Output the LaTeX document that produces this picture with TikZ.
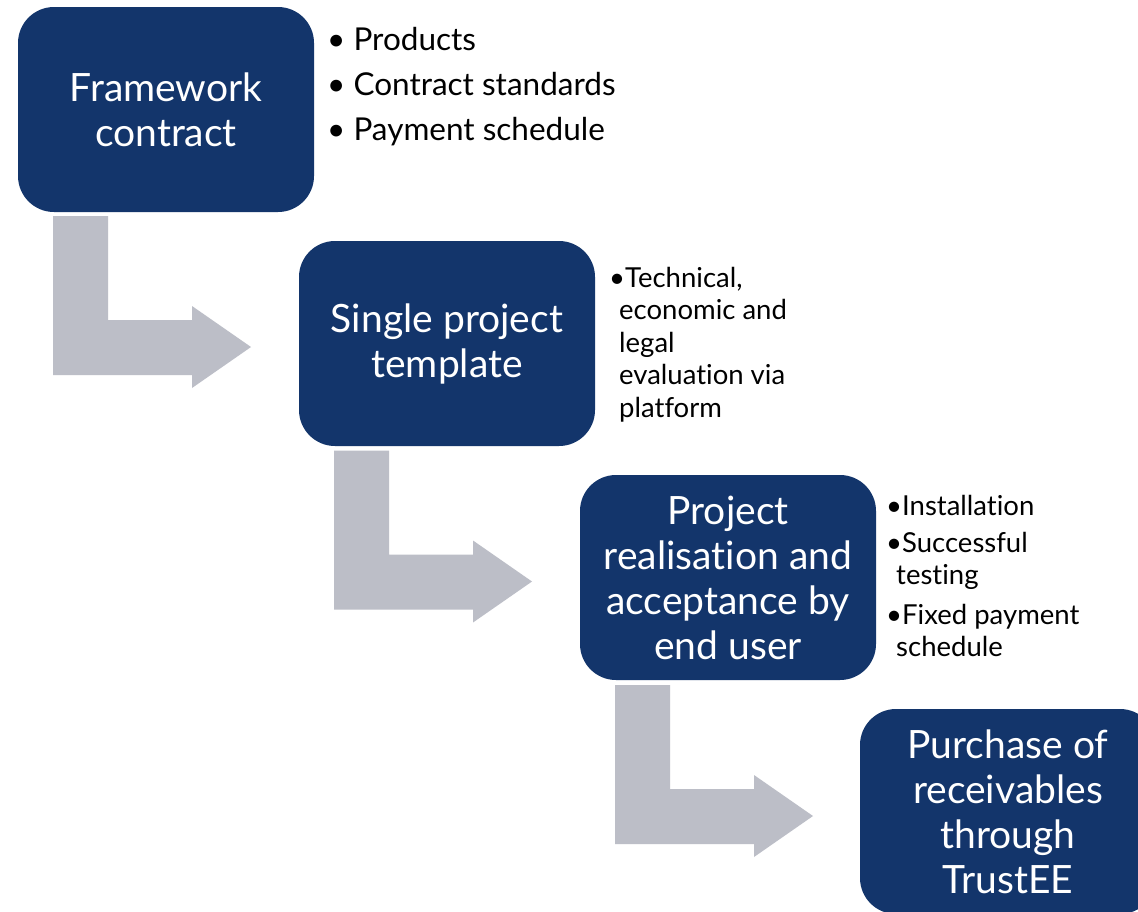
\documentclass[tikz,border=0pt]{standalone}
\usepackage{fontspec}
\setmainfont{Lato}[Ligatures=NoCommon]
\definecolor{boxblue}{RGB}{19,53,107}
\definecolor{arrowgray}{RGB}{188,190,199}
\tikzset{
  stepbox/.style={fill=boxblue, rounded corners=36pt, minimum width=296pt, minimum height=205pt,
    text=white, align=center, font=\fontsize{39}{45}\selectfont, inner sep=0pt},
  bigbullets/.style={anchor=north west, align=left, inner sep=0pt, font=\fontsize{31.5}{45}\selectfont},
  smallbullets/.style={anchor=north west, align=left, inner sep=0pt, font=\fontsize{27.5}{32.5}\selectfont},
  bentarrow/.style={fill=arrowgray, draw=none}
}
\begin{document}
\begin{tikzpicture}[x=1pt,y=-1pt]
\useasboundingbox (0,0) rectangle (1138,911);
\clip (0,0) rectangle (1138,911);
\fill[white] (0,0) rectangle (1138,911);
% bent arrows
\foreach \i in {0,1,2}{
  \begin{scope}[shift={(281*\i,234.5*\i)}]
    \fill[bentarrow] (53,216) -- (108,216) -- (108,320) -- (192,320) -- (192,306)
      -- (251,347) -- (192,388) -- (192,375) -- (53,375) -- cycle;
  \end{scope}
}
% boxes
\node[stepbox] (b1) at (166,109.5) {Framework\\contract};
\node[stepbox] (b2) at (447,343.5) {Single project\\template};
\node[stepbox] (b3) at (728,577.5) {Project\\realisation and\\acceptance by\\end user};
\node[stepbox] (b4) at (1008,811.5) {Purchase of\\receivables\\through\\TrustEE};
% bullet lists
\node[bigbullets] (l1) at (327,27) {\textbullet\ Products\\\textbullet\ Contract standards\\\textbullet\ Payment schedule};
\node[smallbullets] (l2) at (609,267) {\textbullet Technical,\\\hspace*{10pt}economic and\\\hspace*{10pt}legal\\\hspace*{10pt}evaluation via\\\hspace*{10pt}platform};
\node[smallbullets] (l3a) at (886,495) {\textbullet Installation};
\node[smallbullets] (l3b) at (886,532) {\textbullet Successful\\\hspace*{10pt}testing};
\node[smallbullets] (l3c) at (886,604) {\textbullet Fixed payment\\\hspace*{10pt}schedule};
\end{tikzpicture}
\end{document}
